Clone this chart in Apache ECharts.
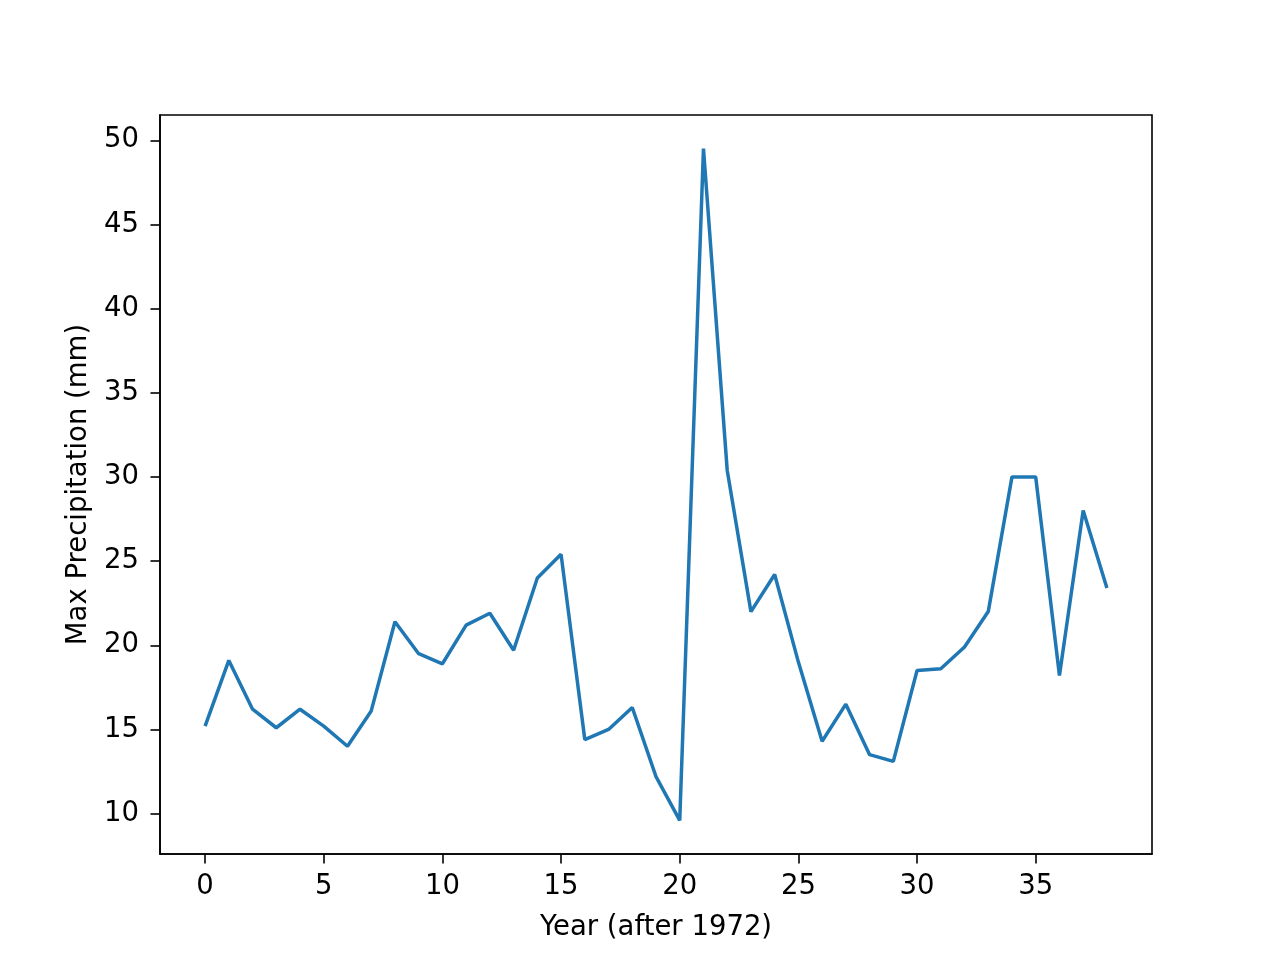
<!DOCTYPE html>
<html>
<head>
<meta charset="utf-8">
<script src="https://cdn.jsdelivr.net/npm/echarts@6/dist/echarts.min.js"></script>
<style>html,body{margin:0;padding:0;background:#fff;}#c{width:1280px;height:960px;}</style>
</head>
<body>
<div id="c"></div>
<script>
const years = [0,1,2,3,4,5,6,7,8,9,10,11,12,13,14,15,16,17,18,19,20,21,22,23,24,25,26,27,28,29,30,31,32,33,34,35,36,37,38];
const maxPrecip = [15.2,19.1,16.2,15.1,16.2,15.2,14.0,16.1,21.4,19.5,18.9,21.2,21.9,19.7,24.0,25.4,14.4,15.0,16.3,12.2,9.6,49.5,30.4,22.0,24.2,19.0,14.3,16.5,13.5,13.1,18.5,18.6,19.9,22.0,30.0,30.0,18.2,28.0,23.4];
const xTicks = [0,5,10,15,20,25,30,35];
const yTicks = [10,15,20,25,30,35,40,45,50];

const chart = echarts.init(document.getElementById('c'), null, {renderer:'canvas'});
const font = 'DejaVu Sans';
const fs = 27.5;
chart.setOption({
  animation: false,
  backgroundColor: '#fff',
  grid: {left:160, right:128, top:115, bottom:106, show:true, borderColor:'#000', borderWidth:1.6, backgroundColor:'transparent'},
  xAxis: {
    type:'value', min:-1.9, max:39.9,
    name:'Year (after 1972)', nameLocation:'middle', nameGap:60,
    nameTextStyle:{fontFamily:font, fontSize:fs, color:'#000'},
    axisLine:{show:true, onZero:false, lineStyle:{color:'#000', width:1.6}},
    axisTick:{show:true, length:9.5, inside:false, lineStyle:{color:'#000', width:1.6}, customValues:xTicks},
    axisLabel:{fontFamily:font, fontSize:fs, color:'#000', margin:19, customValues:xTicks},
    splitLine:{show:false}
  },
  yAxis: {
    type:'value', min:7.6, max:51.5,
    name:'Max Precipitation (mm)', nameLocation:'middle', nameGap:66, nameRotate:90,
    nameTextStyle:{fontFamily:font, fontSize:fs, color:'#000'},
    axisLine:{show:true, onZero:false, lineStyle:{color:'#000', width:1.6}},
    axisTick:{show:true, length:9.5, inside:false, lineStyle:{color:'#000', width:1.6}, customValues:yTicks},
    axisLabel:{fontFamily:font, fontSize:fs, color:'#000', margin:21, customValues:yTicks},
    splitLine:{show:false}
  },
  series: [{
    type:'line',
    data: years.map((x,i)=>[x, maxPrecip[i]]),
    showSymbol:false,
    lineStyle:{color:'#1f77b4', width:3.5},
    itemStyle:{color:'#1f77b4'}
  }]
});
</script>
</body>
</html>
